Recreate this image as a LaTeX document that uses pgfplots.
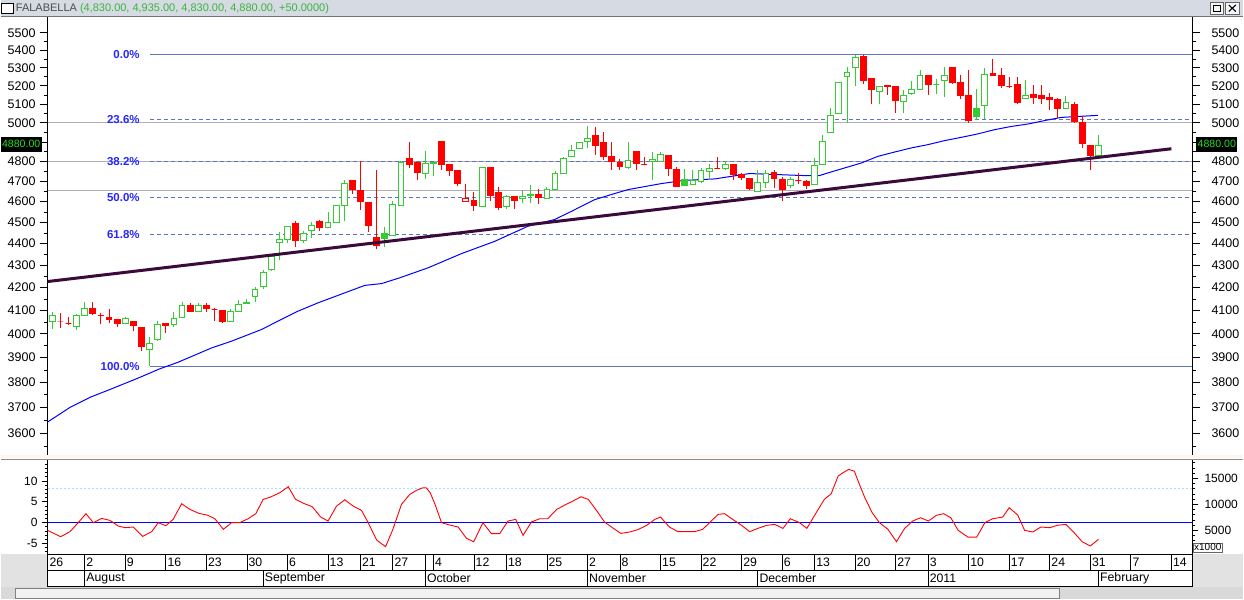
\documentclass[border=0pt]{standalone}
\usepackage{fontspec}
\setmainfont{Liberation Sans}
\usepackage{pgfplots}
\usepackage{pgfplotstable}
\pgfplotsset{compat=1.18}

\definecolor{upg}{HTML}{33CC33}
\definecolor{dnr}{HTML}{FF0000}
\definecolor{maBlue}{HTML}{0000FF}
\definecolor{trend}{HTML}{3A0A3A}
\definecolor{fib}{HTML}{5A74C4}
\definecolor{fibtxt}{HTML}{2626FF}
\definecolor{sup}{HTML}{B4ACB8}
\definecolor{barbg}{HTML}{D5DAE3}
\definecolor{titlegreen}{HTML}{3CB43C}
\definecolor{panelgray}{HTML}{E2E2E2}
\definecolor{tagtxt}{HTML}{22E022}

\newcommand\fs[1]{\fontsize{#1}{#1}\selectfont}

% daily candles: k open high low close style (0 up hollow, 1 down filled, 2 up filled, 3 down hollow)
\pgfplotstableread{
k o h l c s
0 4050 4095 4020 4080 0
1 4050 4090 4025 4050 1
2 4045 4070 4035 4045 1
3 4030 4085 4015 4080 0
4 4080 4135 4075 4110 0
5 4110 4135 4080 4085 1
6 4080 4090 4040 4080 1
7 4070 4105 4045 4060 1
8 4060 4060 4030 4045 1
9 4045 4070 4040 4065 0
10 4050 4050 4010 4035 1
11 4025 4025 3930 3945 1
12 3935 3985 3865 3960 0
13 3975 4055 3970 4040 0
14 4045 4045 4005 4035 1
15 4040 4095 4030 4065 0
16 4070 4135 4065 4120 0
17 4120 4130 4095 4095 1
18 4095 4130 4095 4120 0
19 4120 4130 4095 4110 1
20 4105 4110 4055 4105 1
21 4100 4100 4045 4050 1
22 4050 4105 4050 4095 0
23 4095 4145 4095 4125 0
24 4130 4150 4130 4135 0
25 4160 4205 4135 4190 0
26 4205 4280 4195 4270 0
27 4280 4350 4275 4340 0
28 4405 4455 4325 4420 0
29 4420 4485 4405 4480 0
30 4495 4505 4385 4415 1
31 4415 4460 4405 4450 0
32 4460 4500 4425 4485 0
33 4505 4510 4460 4475 1
34 4475 4550 4475 4500 0
35 4500 4585 4500 4580 0
36 4580 4705 4505 4690 0
37 4705 4705 4640 4660 1
38 4655 4800 4560 4600 1
39 4595 4595 4455 4485 1
40 4430 4755 4375 4390 1
41 4450 4480 4385 4425 2
42 4440 4605 4440 4585 0
43 4580 4800 4580 4795 0
44 4815 4900 4765 4785 1
45 4795 4795 4705 4745 1
46 4740 4855 4710 4790 0
47 4790 4795 4725 4795 0
48 4900 4900 4755 4785 1
49 4785 4785 4725 4755 1
50 4755 4755 4675 4690 1
51 4600 4685 4600 4615 3
52 4605 4645 4555 4580 1
53 4575 4770 4575 4770 0
54 4770 4770 4605 4630 1
55 4645 4670 4560 4570 1
56 4575 4635 4565 4625 0
57 4625 4625 4565 4605 1
58 4615 4655 4595 4625 0
59 4635 4680 4595 4630 2
60 4635 4660 4590 4620 1
61 4615 4670 4615 4660 0
62 4660 4750 4660 4740 0
63 4740 4825 4740 4815 0
64 4825 4885 4825 4855 0
65 4865 4900 4865 4895 0
66 4900 4985 4870 4920 0
67 4935 4980 4835 4880 1
68 4895 4950 4805 4825 1
69 4825 4900 4755 4800 1
70 4795 4815 4755 4775 1
71 4770 4900 4760 4805 0
72 4850 4850 4755 4790 1
73 4785 4825 4780 4785 1
74 4800 4850 4705 4810 0
75 4800 4850 4800 4835 0
76 4830 4830 4725 4765 1
77 4760 4770 4670 4675 1
78 4710 4760 4675 4680 2
79 4685 4755 4680 4705 0
80 4700 4765 4690 4755 0
81 4750 4785 4705 4765 0
82 4765 4825 4760 4765 1
83 4765 4800 4755 4785 0
84 4785 4785 4705 4735 1
85 4735 4740 4705 4720 1
86 4715 4715 4655 4665 1
87 4650 4755 4650 4695 0
88 4695 4755 4665 4740 0
89 4745 4755 4665 4715 1
90 4710 4720 4605 4660 1
91 4680 4720 4665 4710 0
92 4705 4740 4685 4705 1
93 4700 4705 4660 4680 1
94 4685 4820 4685 4780 0
95 4785 4935 4785 4905 0
96 4950 5080 4950 5040 0
97 5050 5220 5050 5220 0
98 5250 5305 5000 5275 0
99 5300 5375 5200 5360 0
100 5365 5370 5210 5230 1
101 5240 5240 5100 5180 1
102 5170 5200 5100 5195 0
103 5200 5205 5150 5195 1
104 5195 5200 5055 5120 1
105 5115 5175 5055 5145 0
106 5160 5225 5150 5180 0
107 5180 5285 5180 5255 0
108 5260 5260 5150 5210 1
109 5210 5235 5155 5210 0
110 5230 5305 5140 5255 0
111 5300 5305 5210 5220 1
112 5220 5260 5130 5145 1
113 5145 5285 5000 5015 1
114 5075 5180 5015 5035 2
115 5095 5300 5020 5265 0
116 5270 5350 5255 5255 1
117 5260 5300 5190 5200 1
118 5195 5250 5190 5195 1
119 5205 5250 5100 5110 1
120 5130 5230 5130 5145 0
121 5150 5205 5100 5135 1
122 5145 5205 5100 5130 1
123 5135 5160 5070 5125 1
124 5125 5135 5025 5075 1
125 5075 5145 5075 5110 0
126 5100 5110 5000 5005 1
127 5000 5035 4870 4890 1
128 4880 4885 4755 4830 1
129 4830 4935 4830 4880 0
}\candles

\pgfplotsset{
  cw0/.style={upg, line width=1pt},
  cw1/.style={dnr, line width=1pt},
  cw2/.style={upg, line width=1pt},
  cw3/.style={dnr, line width=1pt},
  cb0/.style={draw=upg, fill=white, line width=1pt},
  cb1/.style={draw=dnr, fill=dnr, line width=1pt},
  cb2/.style={draw=upg, fill=upg, line width=1pt},
  cb3/.style={draw=dnr, fill=white, line width=1pt},
}

\begin{document}
\begin{tikzpicture}[x=1pt,y=1pt]
\fill[white] (0,0) rectangle (1244,-600);
% window title bar
\fill[barbg] (0,0) rectangle (1244,-16);
\draw[black!55, line width=1pt] (0,-16.5) -- (1244,-16.5);
\draw[black, line width=1.4pt, fill=white] (1,-3.5) rectangle (12.5,-13.5);
\node[anchor=west, inner sep=0pt, font=\fs{11}] at (15,-8.5)
  {\textcolor{black!70}{FALABELLA} \textcolor{titlegreen}{(4,830.00, 4,935.00, 4,830.00, 4,880.00, +50.0000)}};
\draw[black!60, fill=white!92!gray] (1211,-2.5) rectangle (1224,-14);
\draw[black, line width=1pt] (1214,-5.5) rectangle (1221,-11.5);
\draw[black!60, fill=white!92!gray] (1226,-2.5) rectangle (1240,-14);
\draw[black, line width=1.1pt] (1229.5,-5) -- (1236.5,-11.5) (1229.5,-11.5) -- (1236.5,-5);

% price panel
\begin{axis}[at={(47pt,-457pt)}, anchor=south west, scale only axis,
    width=1146pt, height=440pt,
    xmin=-0.567, xmax=140.58,
    ymode=log, ymin=3513.3, ymax=5593.8,
    axis x line=none, axis y line*=left,
    axis line style={-, black, line width=0.8pt},
    tick style={black, line width=0.8pt},
    tick align=outside, major tick length=8pt, minor tick length=4pt,
    ytick={3600,3700,3800,3900,4000,4100,4200,4300,4400,4500,4600,4700,4800,4900,5000,5100,5200,5300,5400,5500},
    yticklabels={3600,3700,3800,3900,4000,4100,4200,4300,4400,4500,4600,4700,4800,{},5000,5100,5200,5300,5400,5500},
    minor ytick={3550,3650,3750,3850,3950,4050,4150,4250,4350,4450,4550,4650,4750,4850,4950,5050,5150,5250,5350,5450},
    yticklabel style={font=\fs{12.5}, inner sep=0pt, xshift=-4pt}]
  \addplot[sup, line width=1pt] coordinates {(-0.567,5000) (140.58,5000)};
  \addplot[sup, line width=1pt] coordinates {(-0.567,4800) (140.58,4800)};
  \addplot[sup, line width=1pt] coordinates {(-0.567,4655) (140.58,4655)};
  % Fibonacci levels, swing 3865 -> 5375
  \addplot[fib!85!gray, line width=1pt] coordinates {(12.05,5375) (140.58,5375)};
  \addplot[fib, line width=1pt, dash pattern=on 4pt off 3pt] coordinates {(12.05,5018.6) (140.58,5018.6)};
  \addplot[fib, line width=1pt, dash pattern=on 4pt off 3pt] coordinates {(12.05,4798.2) (140.58,4798.2)};
  \addplot[fib, line width=1pt, dash pattern=on 4pt off 3pt] coordinates {(12.05,4620) (140.58,4620)};
  \addplot[fib, line width=1pt, dash pattern=on 4pt off 3pt] coordinates {(12.05,4441.8) (140.58,4441.8)};
  \addplot[fib!85!gray, line width=1pt] coordinates {(12.05,3865) (140.58,3865)};
  % moving average
  \addplot[maBlue, line width=1pt] coordinates {
    (-0.65,3642) (2.18,3700) (4.65,3740) (7.11,3771) (10.44,3815) (13.27,3855)
    (15.53,3882) (19.64,3941) (22.11,3969) (25.81,4018) (27.85,4054) (30.32,4097)
    (32.78,4133) (36.07,4177) (38.54,4210) (40.6,4218) (42.85,4244) (46.34,4289)
    (50.46,4354) (54.56,4411) (58.66,4482) (61.95,4514) (64.01,4553) (66.89,4610)
    (68.94,4635) (70.99,4659) (75.1,4689) (77.98,4705) (81.67,4712) (85.98,4739)
    (89.31,4734) (92.52,4729) (94.61,4729) (95.64,4742) (97.69,4767) (99.75,4792)
    (101.8,4826) (103.86,4848) (105.91,4869) (107.96,4886) (110.02,4907) (112.08,4924)
    (114.12,4942) (116.18,4964) (118.24,4981) (120.29,4994) (122.34,5012) (124.4,5029)
    (126.45,5034) (128.92,5040)};
  % candles
  \pgfplotsinvokeforeach{0,...,129}{%
    \pgfplotstablegetelem{#1}{o}\of\candles\let\co\pgfplotsretval
    \pgfplotstablegetelem{#1}{h}\of\candles\let\ch\pgfplotsretval
    \pgfplotstablegetelem{#1}{l}\of\candles\let\cl\pgfplotsretval
    \pgfplotstablegetelem{#1}{c}\of\candles\let\cc\pgfplotsretval
    \pgfplotstablegetelem{#1}{s}\of\candles\let\cst\pgfplotsretval
    \pgfmathsetmacro\xl{#1-0.36}\pgfmathsetmacro\xr{#1+0.36}%
    \edef\doit{%
      \noexpand\addplot[cw\cst] coordinates {(#1,\cl) (#1,\ch)};
      \noexpand\addplot[cb\cst] coordinates {(\xl,\co) (\xr,\co) (\xr,\cc) (\xl,\cc)} --cycle;
    }\doit
  }
  % trend line
  \addplot[trend, line width=3pt] coordinates {(-0.65,4227) (138.0,4865)};
  \node[anchor=east, inner sep=0pt, text=fibtxt, font=\bfseries\fs{11.5}] at (axis cs:10.8,5375) {0.0\%};
  \node[anchor=east, inner sep=0pt, text=fibtxt, font=\bfseries\fs{11.5}] at (axis cs:10.8,5018.6) {23.6\%};
  \node[anchor=east, inner sep=0pt, text=fibtxt, font=\bfseries\fs{11.5}] at (axis cs:10.8,4798.2) {38.2\%};
  \node[anchor=east, inner sep=0pt, text=fibtxt, font=\bfseries\fs{11.5}] at (axis cs:10.8,4620) {50.0\%};
  \node[anchor=east, inner sep=0pt, text=fibtxt, font=\bfseries\fs{11.5}] at (axis cs:10.8,4441.8) {61.8\%};
  \node[anchor=east, inner sep=0pt, text=fibtxt, font=\bfseries\fs{11.5}] at (axis cs:10.8,3865) {100.0\%};
\end{axis}
\begin{axis}[at={(47pt,-457pt)}, anchor=south west, scale only axis,
    width=1146pt, height=440pt,
    xmin=-0.567, xmax=140.58,
    ymode=log, ymin=3513.3, ymax=5593.8,
    axis x line=none, axis y line*=right,
    axis line style={-, black, line width=0.8pt},
    tick style={black, line width=0.8pt},
    tick align=outside, major tick length=8pt, minor tick length=4pt,
    ytick={3600,3700,3800,3900,4000,4100,4200,4300,4400,4500,4600,4700,4800,4900,5000,5100,5200,5300,5400,5500},
    yticklabels={3600,3700,3800,3900,4000,4100,4200,4300,4400,4500,4600,4700,4800,{},5000,5100,5200,5300,5400,5500},
    minor ytick={3550,3650,3750,3850,3950,4050,4150,4250,4350,4450,4550,4650,4750,4850,4950,5050,5150,5250,5350,5450},
    yticklabel style={font=\fs{12.5}, inner sep=0pt, xshift=11pt}]
  \addplot[draw=none] coordinates {(0,4000)};
\end{axis}

% last price tags
\node[fill=black, text=tagtxt, inner sep=0pt, minimum width=41pt, minimum height=15pt, font=\fs{10.6}] at (20.5,-144.2) {4880.00};
\node[fill=black, text=tagtxt, inner sep=0pt, minimum width=41pt, minimum height=15pt, font=\fs{10.6}] at (1217.5,-144.2) {4880.00};

% panel separator
\fill[white!93!brown] (0,-456) rectangle (1244,-459);
\draw[black!45, line width=1.5pt] (0,-460) -- (1244,-460);

% oscillator panel
\begin{axis}[at={(47pt,-555pt)}, anchor=south west, scale only axis,
    width=1146pt, height=94pt,
    xmin=-0.567, xmax=140.58, ymin=-7.6, ymax=14.94,
    axis x line=none, axis y line*=left,
    axis line style={-, black, line width=0.8pt},
    tick style={black, line width=0.8pt},
    tick align=outside, major tick length=6pt, minor tick length=3pt,
    ytick={-5,0,5,10}, yticklabels={-5,0,5,10},
    minor ytick={-7,-6,-4,-3,-2,-1,1,2,3,4,6,7,8,9,11,12,13,14},
    yticklabel style={font=\fs{12}, inner sep=0pt, xshift=-4pt}]
  \addplot[cyan!35, line width=1pt, dash pattern=on 2pt off 2pt] coordinates {(-0.567,8.2) (140.58,8.2)};
  \addplot[maBlue, line width=1.3pt] coordinates {(-0.567,0) (140.58,0)};
  \addplot[red, line width=0.9pt] coordinates {
    (-0.57,-1.85) (1.03,-3.36) (2.18,-2.16) (3.2,0) (4.15,2.16) (5.06,0) (6.08,1.03)
    (7.11,0.55) (8.14,-0.8) (8.96,-1.2) (9.98,-1.05) (11.14,-3.29) (12.25,-2.16)
    (13.07,0) (14.0,-0.72) (14.9,0.79) (15.95,4.55) (16.97,3.19) (18.08,2.23)
    (19.1,1.83) (20.05,0.95) (21.1,-1.6) (22.1,0) (23.1,0) (24.15,0.95) (25.1,2.16)
    (26.0,5.59) (26.9,6.15) (28.06,7.19) (29.1,8.63) (30.0,5.59) (31.0,4.63)
    (32.05,3.84) (33.1,1.35) (34.0,0.4) (35.05,3.98) (36.07,5.5) (37.1,3.98)
    (38.13,2.95) (38.95,0) (40.0,-4.17) (41.1,-5.76) (42.0,-1.6) (43.06,4.39)
    (44.08,6.79) (44.9,7.75) (45.7,8.39) (46.1,8.39) (46.6,7.19) (47.2,4.39)
    (48.0,0) (49.0,-0.56) (50.05,-1.04) (51.07,-3.76) (51.97,-4.57) (53.1,0)
    (54.15,-2.64) (55.17,-2.64) (56.2,0.4) (57.15,0.79) (58.05,-3.05) (59.08,0.16)
    (60.1,0.95) (61.1,0.95) (62.2,3.19) (63.2,4.23) (64.2,5.19) (65.2,6.23)
    (66.1,5.59) (67.1,2.95) (68.1,0.16) (69.2,-1.37) (70.1,-2.57) (71.2,-2.24)
    (72.2,-1.68) (73.3,-0.64) (74.3,0.79) (75.0,1.35) (76.1,-1.04) (77.15,-2.16)
    (78.2,-2.16) (79.2,-2.16) (80.2,-1.6) (81.05,0) (82.1,1.99) (82.9,2.16)
    (83.9,0.79) (85.0,-0.64) (86.0,-2.16) (87.0,-1.37) (88.1,-0.64) (89.07,-0.4)
    (90.1,-1.37) (91.0,0.95) (92.15,0) (93.05,-1.37) (94.0,1.75) (95.2,5.59)
    (96.05,6.95) (96.9,11.18) (97.5,11.99) (98.2,12.78) (98.9,12.37) (99.45,9.59)
    (100.2,5.99) (101.1,2.4) (102.0,0) (103.05,-1.6) (104.1,-4.57) (105.1,-1.37)
    (106.1,0.4) (107.07,1.19) (108.05,0.4) (109.0,1.75) (109.9,2.16) (110.8,1.19)
    (111.7,-1.84) (112.9,-3.45) (114.0,-3.45) (115.0,0) (115.97,0.95) (117.2,1.35)
    (118.0,3.6) (119.05,1.83) (119.9,-1.84) (120.9,-2.24) (121.9,-1.04) (123.0,-1.2)
    (123.9,-0.64) (125.0,-0.4) (126.0,-2.4) (127.0,-4.57) (128.0,-5.6) (129.0,-4.0)};
\end{axis}
\begin{axis}[at={(47pt,-555pt)}, anchor=south west, scale only axis,
    width=1146pt, height=94pt,
    xmin=-0.567, xmax=140.58, ymin=385, ymax=18462,
    axis x line=none, axis y line*=right, scaled y ticks=false,
    axis line style={-, black, line width=0.8pt},
    tick style={black, line width=0.8pt},
    tick align=outside, major tick length=6pt, minor tick length=3pt,
    ytick={5000,10000,15000}, yticklabels={5000,10000,15000},
    minor ytick={1000,2000,3000,4000,6000,7000,8000,9000,11000,12000,13000,14000,16000,17000,18000},
    yticklabel style={font=\fs{12}, inner sep=0pt, xshift=6pt}]
  \addplot[draw=none] coordinates {(0,5000)};
\end{axis}

% bottom gray areas
\fill[panelgray] (0,-555) rectangle (47,-588);
\fill[panelgray] (1193,-555) rectangle (1244,-588);
\fill[black!15] (0,-588) rectangle (1244,-600);
\fill[white!90!gray] (14,-589) rectangle (1060,-599);
\draw[black!50] (14,-589) rectangle (1060,-599);
\node[draw=black!60, fill=white, inner sep=1pt, font=\fs{10}] at (1208.5,-548) {x1000};

% date row
\begin{axis}[at={(47pt,-571pt)}, anchor=south west, scale only axis,
    width=1146pt, height=16pt,
    xmin=-0.567, xmax=140.58, ymin=0, ymax=1,
    ytick=\empty, major tick length=0pt,
    axis line style={black, line width=0.8pt},
    xmajorgrids, major grid style={black, line width=0.8pt},
    xticklabel style={anchor=west, inner sep=0pt, xshift=1.5pt, yshift=8pt, font=\fs{12.3}},
    xtick={-0.55,4,9,14,19,24,29,34,38,42,46,47,52,56,61,66,70,75,80,85,90,94,99,104,108,113,118,123,128,133,138},
    xticklabels={26,2,9,16,23,30,6,13,21,27,{},4,12,18,25,2,8,15,22,29,6,13,20,27,3,10,17,24,31,7,14}]
  \addplot[draw=none] coordinates {(0,0.5)};
\end{axis}
% month row
\begin{axis}[at={(47pt,-587pt)}, anchor=south west, scale only axis,
    width=1146pt, height=16pt,
    xmin=-0.567, xmax=140.58, ymin=0, ymax=1,
    ytick=\empty, major tick length=0pt,
    axis line style={black, line width=0.8pt},
    xmajorgrids, major grid style={black, line width=0.8pt},
    xticklabel style={anchor=west, inner sep=0pt, xshift=1.5pt, yshift=8pt, font=\fs{12.3}},
    xtick={4,26,46,66,87,108,129},
    xticklabels={August,September,October,November,December,2011,February}]
  \addplot[draw=none] coordinates {(0,0.5)};
\end{axis}
\end{tikzpicture}
\end{document}
